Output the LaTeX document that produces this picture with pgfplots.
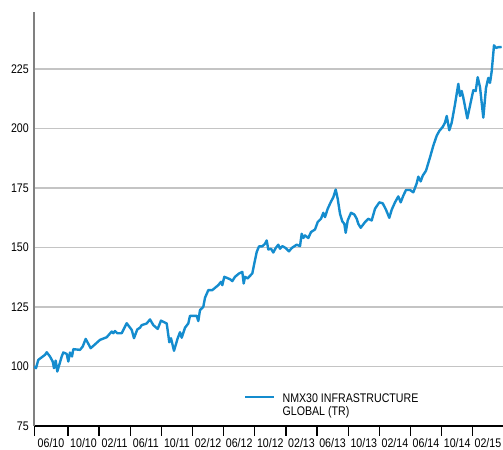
\documentclass[border=0pt]{standalone}
\usepackage{fontspec}
\setmainfont{Liberation Sans}[FakeStretch=0.85]
\usepackage{pgfplots}
\pgfplotsset{compat=1.18}
\definecolor{lineblue}{RGB}{20,140,206}
\definecolor{gridgray}{RGB}{196,196,196}
\definecolor{yaxgray}{RGB}{128,128,128}
\begin{document}
\begin{tikzpicture}
\path[use as bounding box] (-34bp,-24bp) rectangle (469bp,426bp);
\begin{axis}[
  at={(0,0)}, anchor=south west,
  width=469bp, height=414bp, scale only axis,
  xmin=34, xmax=503, ymin=75, ymax=249,
  axis lines=left,
  axis line style={-},
  x axis line style={black, line width=1.3bp},
  y axis line style={yaxgray, line width=2bp},
  font=\fontsize{12.5bp}{13bp}\selectfont,
  /pgf/number format/assume math mode=true,
  ytick={75,100,125,150,175,200,225},
  ymajorgrids,
  grid style={gridgray, line width=1.2bp},
  xtick={51,83.5,114.6,145.8,176.9,208.1,239.2,270.3,301.5,332.6,363.8,394.9,426,457.2,487.9},
  xticklabels={06/10,10/10,02/11,06/11,10/11,02/12,06/12,10/12,02/13,06/13,10/13,02/14,06/14,10/14,02/15},
  minor xtick={34.6,68,99.1,130.3,161.4,192.5,223.7,254.8,285.9,317.1,348.2,379.3,410.5,441.6,472.7},
  major tick length=0pt,
  minor tick length=9.5bp,
  tick align=outside,
  minor tick style={black, line width=1.3bp},
  xticklabel style={anchor=base, inner sep=0pt, yshift=-21.2bp},
  yticklabel style={anchor=east, inner sep=0pt, xshift=-5bp},
  legend style={draw=none, fill=none, at={(axis cs:244,83.5)}, anchor=west,
     cells={align=left}, font=\fontsize{12.5bp}{13bp}\selectfont, inner sep=0pt},
  legend image code/.code={\draw[lineblue, line width=2.3bp, overlay] (0bp,9bp) -- (29bp,9bp); \path (0bp,0bp) (34bp,0bp);},
  legend cell align=left,
]
\addplot[lineblue, line width=2.4bp, line join=round] coordinates {
(34,100) (36,99.3) (38.3,102.8) (45,104.9) (46.7,106) (50,104.2) (52.7,102.1)
(54,99.3) (55.7,102.5) (57.3,97.9) (61.7,104.2) (63.3,105.9) (66.7,105.3)
(68.3,102.1) (70,105.9) (72,104.2) (73.3,107.3) (80,107) (82.7,108.4)
(85.7,111.6) (90.7,107.7) (100,111.2) (106.7,112.3) (111.7,114.7) (113.3,114)
(115,114.9) (117.3,114) (121.7,114) (126.7,118.2) (131.7,115.4) (134,111.9)
(137.3,115.6) (140,116.3) (141.7,117.4) (146.7,118.1) (150,119.8) (153.3,117.4)
(157.7,115.8) (161,119.3) (166.7,118.1) (169.3,110.2) (171,111.9) (174,106.6)
(177.7,111.9) (180,114.4) (181.7,112.1) (185,116.3) (188.3,118.1) (190,121.3)
(196.7,121.3) (198.3,119.1) (200,123.7) (203.3,125.1) (205,128.9) (208.3,132.1)
(212.3,132.1) (218.3,134.2) (221,135.6) (222.3,134.2) (224.3,137.7) (230,136.7)
(232.3,135.9) (235,137.7) (239,139.1) (242.3,139.8) (243.7,134.9) (245,137.7)
(247.7,137) (249,137.7) (252.3,139.1) (254.3,143.3) (256.7,148.1) (259,150.5)
(262.3,150.5) (265,151.6) (266.7,153) (268.3,149.2) (271,149.5) (273.3,147.9)
(275.7,149.8) (278.3,151.2) (280,149.5) (282.3,150.6) (285.7,149.8) (289,148.4)
(291.7,149.8) (296.7,151.2) (300,150.6) (301.7,155.8) (303.3,154) (305,155.1)
(308.3,154) (311,156.5) (315,157.6) (317.7,160.7) (321,162.1) (323.3,164.6)
(325,162.8) (327.7,166.3) (331,169.3) (333.3,171.1) (335.7,174.4) (337.7,170.5)
(340,164.2) (342.3,161) (344.3,160) (345.7,156.2) (347.7,161.4) (351,164.6)
(354.3,163.9) (356.7,162.1) (358.3,160) (360.7,158.3) (365,160.7) (368.3,162.1)
(371.7,161.4) (375,166.3) (379.3,169) (382.7,168.6) (386,165.9) (389.3,162.5)
(391.7,165.9) (395,169) (398.3,171.5) (400.7,169) (403.3,171.8) (406,174.2)
(410,174.2) (413.3,173.2) (416.7,177) (418.3,179.8) (420.7,177.8) (422.7,180.2)
(426,182.3) (430,187.9) (433.3,192.8) (436.7,197) (439.3,199) (442.7,200.7)
(445,202.5) (446.7,205.3) (449.3,199.3) (451.7,202.5) (455,210.2) (458.3,218.8)
(460,213.7) (461.7,215.8) (463.3,213) (467.3,204.3) (471.7,213) (473.3,216.1)
(475.7,215.8) (477.7,221.6) (480,217.4) (483.3,204.6) (486,217.1) (488.3,221.3)
(490,219.2) (491.7,224.1) (494,235) (496,233.9) (498.3,234.2) (501.7,234.3)
};
\addlegendentry{NMX30 INFRASTRUCTURE\\GLOBAL (TR)}
\end{axis}
\end{tikzpicture}
\end{document}
